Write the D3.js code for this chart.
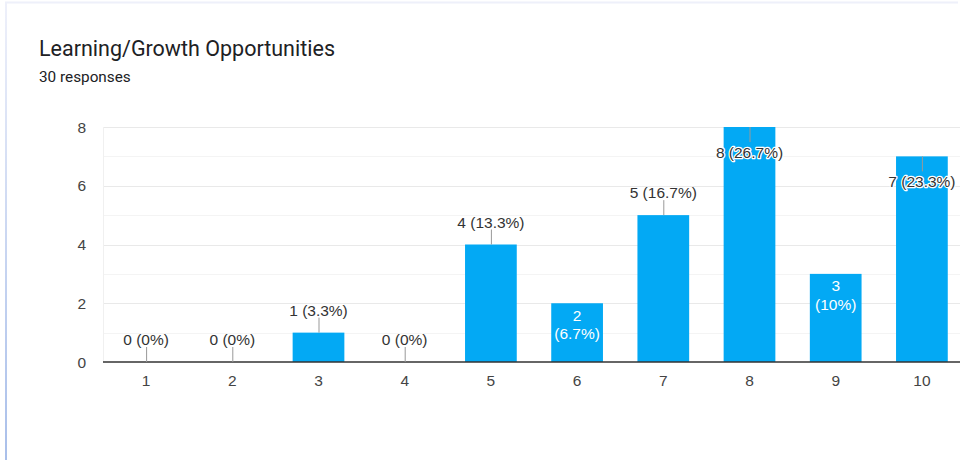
<!DOCTYPE html>
<html>
<head>
<meta charset="utf-8">
<script src="https://cdn.jsdelivr.net/npm/d3@7"></script>
<style>
  html, body { margin: 0; padding: 0; background: #fff; }
  #chart { width: 960px; height: 460px; }
</style>
</head>
<body>
<div id="chart"></div>
<script>
// ------- Data
const TITLE = 'Learning/Growth Opportunities';
const SUBTITLE = '30 responses';
const categories = ['1', '2', '3', '4', '5', '6', '7', '8', '9', '10'];
const counts = [0, 0, 1, 0, 4, 2, 5, 8, 3, 7];
const percents = ['0%', '0%', '3.3%', '0%', '13.3%', '6.7%', '16.7%', '26.7%', '10%', '23.3%'];
const yTicks = [0, 2, 4, 6, 8];
const yMinorTicks = [1, 3, 5, 7];

(function () {
    const width = 960, height = 460;
    const margin = { top: 127, right: -5, bottom: 98, left: 103 };
    const barColor = '#03a9f4';
    const labelFont = '"Liberation Sans", Arial, sans-serif';

    const svg = d3.select('#chart').append('svg')
        .attr('width', width)
        .attr('height', height)
        .attr('viewBox', `0 0 ${width} ${height}`);

    // ------- Card edges (faint top line, left line fading into blue)
    const defs = svg.append('defs');
    const grad = defs.append('linearGradient')
        .attr('id', 'edge')
        .attr('x1', 0).attr('y1', 0).attr('x2', 0).attr('y2', 1);
    grad.append('stop').attr('offset', '0%').attr('stop-color', '#eef0fa');
    grad.append('stop').attr('offset', '100%').attr('stop-color', '#a9bfea');

    svg.append('line')
        .attr('x1', 5).attr('x2', 958).attr('y1', 2.5).attr('y2', 2.5)
        .attr('stroke', '#eef0fa').attr('stroke-width', 2);
    svg.append('rect')
        .attr('x', 5).attr('y', 2).attr('width', 2).attr('height', height - 2)
        .attr('fill', 'url(#edge)');

    // ------- Title
    svg.append('text')
        .attr('x', 39).attr('y', 56)
        .attr('fill', '#202124')
        .style('font-family', 'Roboto, "Open Sans", sans-serif')
        .style('font-size', '21.5px')
        .text(TITLE);

    svg.append('text')
        .attr('x', 39).attr('y', 82)
        .attr('fill', '#202124')
        .style('font-family', 'Roboto, "Open Sans", sans-serif')
        .style('font-size', '15.3px')
        .text(SUBTITLE);

    // ------- Scales
    const x = d3.scaleBand()
        .domain(categories)
        .range([margin.left, width - margin.right])
        .paddingInner(0.4)
        .paddingOuter(0.2);

    const y = d3.scaleLinear()
        .domain([0, 8])
        .range([height - margin.bottom, margin.top]);

    const plotRight = width - margin.right;

    // ------- Gridlines
    svg.append('g')
        .selectAll('line')
        .data(yMinorTicks)
        .join('line')
        .attr('x1', margin.left).attr('x2', plotRight)
        .attr('y1', d => Math.round(y(d)) + 0.5).attr('y2', d => Math.round(y(d)) + 0.5)
        .attr('stroke', '#f4f4f4');

    svg.append('g')
        .selectAll('line')
        .data(yTicks.filter(d => d !== 0))
        .join('line')
        .attr('x1', margin.left).attr('x2', plotRight)
        .attr('y1', d => Math.round(y(d)) + 0.5).attr('y2', d => Math.round(y(d)) + 0.5)
        .attr('stroke', '#e9e9e9');

    // left edge of the plot area
    svg.append('line')
        .attr('x1', margin.left + 0.5).attr('x2', margin.left + 0.5)
        .attr('y1', y(8)).attr('y2', y(0))
        .attr('stroke', '#f0f0f0');

    // ------- Y axis labels
    svg.append('g')
        .selectAll('text')
        .data(yTicks)
        .join('text')
        .attr('x', 86)
        .attr('y', d => y(d))
        .attr('dy', '0.36em')
        .attr('text-anchor', 'end')
        .attr('fill', '#444')
        .style('font-family', labelFont)
        .style('font-size', '15.5px')
        .text(d => d);

    // ------- X axis labels
    svg.append('g')
        .selectAll('text')
        .data(categories)
        .join('text')
        .attr('x', d => x(d) + x.bandwidth() / 2)
        .attr('y', y(0) + 24)
        .attr('text-anchor', 'middle')
        .attr('fill', '#444')
        .style('font-family', labelFont)
        .style('font-size', '15.5px')
        .text(d => d);

    // ------- Bars
    const rows = categories.map((c, i) => ({ cat: c, n: counts[i], pct: percents[i] }));

    svg.append('g')
        .selectAll('rect')
        .data(rows.filter(d => d.n > 0))
        .join('rect')
        .attr('x', d => x(d.cat))
        .attr('y', d => y(d.n))
        .attr('width', x.bandwidth())
        .attr('height', d => y(0) - y(d.n))
        .attr('fill', barColor);

    // ------- Baseline
    svg.append('line')
        .attr('x1', margin.left).attr('x2', plotRight)
        .attr('y1', y(0)).attr('y2', y(0))
        .attr('stroke', '#333')
        .attr('stroke-width', 1.5);

    // ------- Annotations
    // Tall bars get the label pulled inside (dark text with white halo),
    // mid-height bars get a two-line white label, the rest sit above with a leader.
    const ann = svg.append('g')
        .style('font-family', labelFont)
        .style('font-size', '15.5px');

    rows.forEach(d => {
        const cx = x(d.cat) + x.bandwidth() / 2;
        const top = y(d.n);
        const label = `${d.n} (${d.pct})`;

        if (d.n >= 7) {
            ann.append('line')
                .attr('x1', cx + 0.5).attr('x2', cx + 0.5)
                .attr('y1', top).attr('y2', top + 15)
                .attr('stroke', '#999');
            ann.append('text')
                .attr('x', cx).attr('y', top + 31)
                .attr('text-anchor', 'middle')
                .attr('fill', '#333')
                .attr('stroke', '#fff')
                .attr('stroke-width', 2.5)
                .attr('stroke-linejoin', 'round')
                .style('paint-order', 'stroke')
                .text(label);
        } else if (d.n === 2 || d.n === 3) {
            ann.append('text')
                .attr('x', cx).attr('y', top + 17.5)
                .attr('text-anchor', 'middle')
                .attr('fill', '#fff')
                .text(d.n);
            ann.append('text')
                .attr('x', cx).attr('y', top + 36)
                .attr('text-anchor', 'middle')
                .attr('fill', '#fff')
                .text(`(${d.pct})`);
        } else {
            ann.append('line')
                .attr('x1', cx + 0.5).attr('x2', cx + 0.5)
                .attr('y1', top).attr('y2', top - 15)
                .attr('stroke', '#999');
            ann.append('text')
                .attr('x', cx).attr('y', top - 17)
                .attr('text-anchor', 'middle')
                .attr('fill', '#333')
                .text(label);
        }
    });
})();
</script>
</body>
</html>
